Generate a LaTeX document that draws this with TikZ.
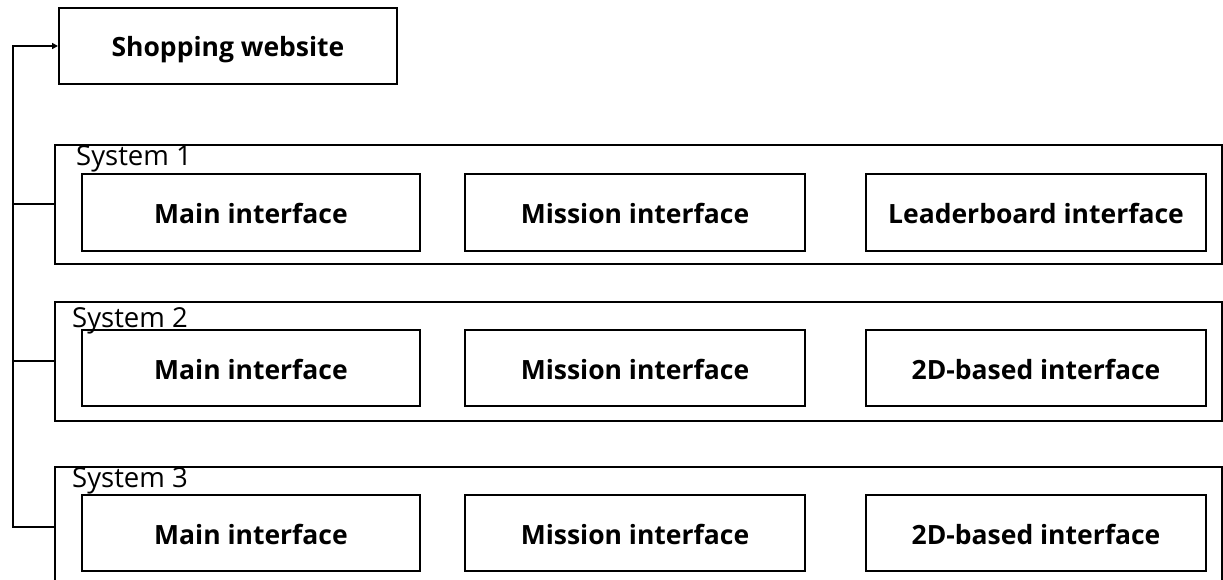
\documentclass[tikz,border=0pt]{standalone}
\usepackage{fontspec}
\setmainfont{Open Sans}
\usetikzlibrary{arrows.meta}
\begin{document}
\begin{tikzpicture}[x=1pt,y=-1pt,
  panel/.style={draw, line width=2pt, inner sep=0pt,
    minimum width=338pt, minimum height=76pt,
    text height=22pt, text depth=0pt,
    font=\bfseries\fontsize{26.5}{26.5}\selectfont},
  sysframe/.style={draw, line width=2pt, inner sep=0pt,
    minimum width=1167pt, minimum height=119pt},
  syslabel/.style={anchor=base west, inner sep=0pt,
    font=\fontsize{27.5}{27.5}\selectfont},
  link/.style={line width=2pt}]
\useasboundingbox (0,0) rectangle (1223,580);
\clip (0,0) rectangle (1223,580);

% top-level node
\node[panel] (shop) at (228,46) {Shopping website};

% system frames
\node[sysframe] (sys1) at (638.5,204.5) {};
\node[sysframe] (sys2) at (638.5,361) {};
\node[sysframe] (sys3) at (638.5,526.5) {};

\node[syslabel] (lab1) at (76,166) {System 1};
\node[syslabel] (lab2) at (72,327) {System 2};
\node[syslabel] (lab3) at (72,487) {System 3};

% interfaces of system 1
\node[panel] (m1) at (251,212.5) {Main interface};
\node[panel, minimum width=340pt] (q1) at (635,212.5) {Mission interface};
\node[panel, minimum width=340pt] (l1) at (1036,212.5) {Leaderboard interface};

% interfaces of system 2
\node[panel] (m2) at (251,368) {Main interface};
\node[panel, minimum width=340pt] (q2) at (635,368) {Mission interface};
\node[panel, minimum width=340pt] (d2) at (1036,368) {2D-based interface};

% interfaces of system 3
\node[panel] (m3) at (251,533) {Main interface};
\node[panel, minimum width=340pt] (q3) at (635,533) {Mission interface};
\node[panel, minimum width=340pt] (d3) at (1036,533) {2D-based interface};

% trunk line joining the systems to the website
\coordinate (trunk) at (13,0);
\draw[link, -{Triangle[length=6pt,width=6pt]}]
  (sys3.west) -- (sys3.west -| trunk) |- (shop.west);
\draw[link] (sys1.west) -- (sys1.west -| trunk);
\draw[link] (sys2.west) -- (sys2.west -| trunk);
\end{tikzpicture}
\end{document}
